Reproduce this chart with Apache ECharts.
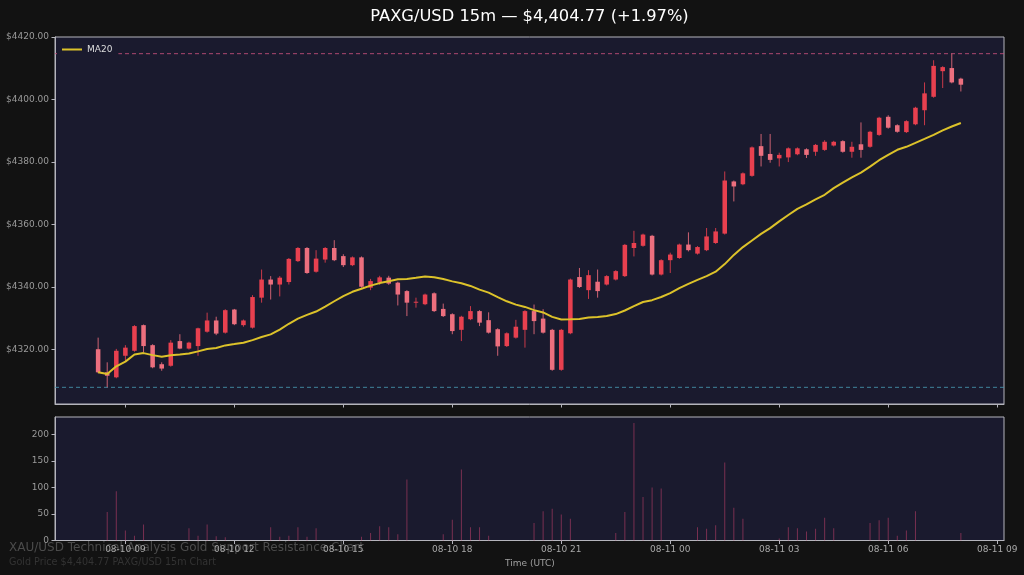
<!DOCTYPE html>
<html>
<head>
<meta charset="utf-8">
<style>
html,body{margin:0;padding:0;background:#121212;}
#chart{width:1024px;height:575px;}
</style>
<script src="https://cdn.jsdelivr.net/npm/echarts@6.0.0/dist/echarts.min.js"></script>
</head>
<body>
<div id="chart"></div>
<script>
// ---- data ----
const times = [
 '08-10 08:15','08-10 08:30','08-10 08:45',
 '08-10 09:00','08-10 09:15','08-10 09:30','08-10 09:45',
 '08-10 10:00','08-10 10:15','08-10 10:30','08-10 10:45',
 '08-10 11:00','08-10 11:15','08-10 11:30','08-10 11:45',
 '08-10 12:00','08-10 12:15','08-10 12:30','08-10 12:45',
 '08-10 13:00','08-10 13:15','08-10 13:30','08-10 13:45',
 '08-10 14:00','08-10 14:15','08-10 14:30','08-10 14:45',
 '08-10 15:00','08-10 15:15','08-10 15:30','08-10 15:45',
 '08-10 16:00','08-10 16:15','08-10 16:30','08-10 16:45',
 '08-10 17:00','08-10 17:15','08-10 17:30','08-10 17:45',
 '08-10 18:00','08-10 18:15','08-10 18:30','08-10 18:45',
 '08-10 19:00','08-10 19:15','08-10 19:30','08-10 19:45',
 '08-10 20:00','08-10 20:15','08-10 20:30','08-10 20:45',
 '08-10 21:00','08-10 21:15','08-10 21:30','08-10 21:45',
 '08-10 22:00','08-10 22:15','08-10 22:30','08-10 22:45',
 '08-10 23:00','08-10 23:15','08-10 23:30','08-10 23:45',
 '08-11 00:00','08-11 00:15','08-11 00:30','08-11 00:45',
 '08-11 01:00','08-11 01:15','08-11 01:30','08-11 01:45',
 '08-11 02:00','08-11 02:15','08-11 02:30','08-11 02:45',
 '08-11 03:00','08-11 03:15','08-11 03:30','08-11 03:45',
 '08-11 04:00','08-11 04:15','08-11 04:30','08-11 04:45',
 '08-11 05:00','08-11 05:15','08-11 05:30','08-11 05:45',
 '08-11 06:00','08-11 06:15','08-11 06:30','08-11 06:45',
 '08-11 07:00','08-11 07:15','08-11 07:30','08-11 07:45',
 '08-11 08:00'
];
const opens = [
 4320.1,4312.7,4311.1,4318.0,4319.6,4327.8,4321.4,4315.3,4314.8,4322.7,
 4320.3,4321.1,4325.7,4329.3,4325.4,4332.8,4327.8,4327.0,4336.6,4342.4,
 4340.8,4341.6,4348.3,4352.5,4344.9,4348.8,4352.5,4349.9,4347.0,4349.5,
 4339.8,4341.4,4343.0,4341.4,4338.7,4335.0,4334.5,4338.0,4333.0,4331.3,
 4326.3,4329.7,4332.3,4329.4,4326.5,4321.1,4323.8,4326.3,4332.3,4329.9,
 4326.3,4313.5,4325.2,4343.2,4339.0,4341.7,4340.8,4342.4,4343.5,4352.5,
 4353.2,4356.4,4344.0,4348.6,4349.3,4353.6,4350.7,4351.8,4354.1,4357.1,
 4373.8,4372.9,4375.6,4385.1,4382.6,4381.2,4381.5,4382.5,4384.1,4383.3,
 4383.9,4385.3,4386.7,4383.3,4385.7,4384.9,4388.7,4394.5,4391.8,4389.6,
 4392.1,4396.6,4400.9,4409.1,4410.1,4406.7
];
const closes = [
 4312.7,4311.6,4319.6,4320.6,4327.5,4321.1,4314.3,4313.9,4322.2,4320.3,
 4322.2,4326.8,4329.3,4325.1,4332.6,4328.1,4329.3,4336.8,4342.4,4340.8,
 4343.0,4349.0,4352.5,4344.5,4349.1,4352.5,4348.6,4347.0,4349.5,4340.1,
 4341.9,4343.1,4341.1,4337.6,4335.0,4335.3,4337.6,4332.3,4330.7,4325.9,
 4330.5,4332.3,4328.6,4325.4,4321.0,4325.2,4327.3,4332.3,4329.1,4325.4,
 4313.5,4326.3,4342.4,4340.0,4343.8,4338.7,4343.5,4345.1,4353.5,4354.1,
 4356.8,4344.0,4348.6,4350.4,4353.6,4351.8,4352.8,4356.2,4357.8,4374.1,
 4372.2,4376.4,4384.7,4382.0,4380.7,4382.3,4384.4,4384.4,4382.3,4385.5,
 4386.5,4386.5,4383.3,4384.9,4383.9,4389.7,4394.2,4391.0,4389.7,4393.1,
 4397.4,4402.0,4410.8,4410.4,4405.5,4404.77
];
const highs = [
 4323.8,4315.9,4320.2,4321.4,4327.8,4328.0,4321.7,4315.9,4323.0,4324.9,
 4322.5,4327.0,4331.8,4330.5,4332.9,4333.0,4329.6,4337.4,4345.6,4343.5,
 4343.5,4349.3,4352.8,4352.8,4351.8,4352.8,4355.0,4350.5,4349.8,4349.8,
 4342.6,4343.6,4343.6,4341.7,4339.0,4336.6,4337.9,4338.3,4334.7,4331.6,
 4330.8,4333.9,4332.6,4331.9,4326.8,4325.5,4329.5,4332.6,4334.4,4332.9,
 4326.6,4326.6,4342.7,4346.1,4345.4,4345.6,4343.8,4345.4,4353.8,4358.0,
 4357.1,4356.7,4348.9,4351.0,4353.9,4357.5,4353.1,4358.9,4358.9,4377.0,
 4374.1,4376.7,4385.0,4389.0,4389.0,4383.0,4384.7,4384.7,4384.4,4385.8,
 4387.0,4386.8,4387.0,4386.5,4392.7,4390.0,4394.5,4395.0,4392.1,4393.4,
 4397.7,4405.5,4412.6,4410.7,4414.7,4407.0
];
const lows = [
 4312.4,4307.9,4310.8,4316.4,4319.3,4319.2,4314.0,4313.2,4314.5,4320.1,
 4320.0,4318.0,4325.4,4324.6,4325.1,4327.8,4327.3,4326.7,4335.0,4336.0,
 4337.0,4340.8,4348.0,4344.2,4344.6,4347.8,4348.3,4346.4,4346.7,4339.8,
 4339.0,4340.7,4340.7,4334.1,4330.7,4333.4,4334.2,4332.0,4330.4,4324.9,
 4322.7,4329.4,4327.5,4325.1,4318.0,4320.8,4323.5,4320.6,4324.9,4325.1,
 4313.2,4313.2,4324.9,4339.7,4336.2,4336.6,4340.5,4342.1,4343.2,4349.8,
 4352.9,4343.7,4343.7,4344.5,4349.0,4351.4,4350.4,4351.5,4353.8,4356.8,
 4367.4,4372.6,4375.3,4378.6,4379.8,4378.6,4380.0,4382.2,4381.3,4382.0,
 4383.6,4385.0,4383.0,4381.4,4381.4,4384.6,4388.4,4390.7,4389.4,4389.3,
 4391.8,4391.8,4400.6,4403.7,4405.2,4402.6
];
const volumes = [
 0,54,93,19,9,30,0,0,0,0,
 23,9,30,8,6,0,0,0,0,25,
 7,9,25,7,23,0,0,0,0,7,
 14,27,25,12,115,0,0,0,12,39,
 134,25,25,9,0,0,0,0,33,55,
 60,49,41,0,0,0,0,14,54,222,
 82,100,98,0,0,0,25,22,29,147,
 62,41,0,0,0,4,25,23,17,22,
 43,23,0,0,0,33,38,43,9,19,
 55,0,0,0,0,14
];
const priceTicks = [4320, 4340, 4360, 4380, 4400, 4420];
const volumeTicks = [0, 50, 100, 150, 200];
const timeTickLabels = ['08-10 09','08-10 12','08-10 15','08-10 18','08-10 21','08-11 00','08-11 03','08-11 06','08-11 09'];
const maPeriod = 20;
const titleText = 'PAXG/USD 15m \u2014 $4,404.77 (+1.97%)';
const watermark1 = 'XAU/USD Technical Analysis Gold Support Resistance Chart';
const watermark2 = 'Gold Price $4,404.77 PAXG/USD 15m Chart';

// ---- derived ----
function toHours(s) {
  const parts = s.split(' ');
  const day = +parts[0].split('-')[1];
  const hm = parts[1].split(':');
  return (day - 10) * 24 + (+hm[0]) + (hm.length > 1 ? (+hm[1]) / 60 : 0);
}
const xs = times.map(toHours);
const tickHours = timeTickLabels.map(toHours);
const tickLabelMap = {};
tickHours.forEach((h, i) => { tickLabelMap[h] = timeTickLabels[i]; });

const span = xs[xs.length - 1] - xs[0];
const xMin = xs[0] - 0.05 * span;
const xMax = xs[xs.length - 1] + 0.05 * span;
const hiMax = Math.max(...highs), loMin = Math.min(...lows);
const pSpan = hiMax - loMin;
const yMin = loMin - 0.05 * pSpan, yMax = hiMax + 0.05 * pSpan;
const volMax = Math.max(...volumes) * 1.05;

const ma = closes.map((c, i) => {
  const s = Math.max(0, i - maPeriod + 1);
  const seg = closes.slice(s, i + 1);
  return seg.reduce((a, b) => a + b, 0) / seg.length;
});

const candleData = xs.map((x, i) => [x, opens[i], closes[i], lows[i], highs[i]]);
const maData = xs.map((x, i) => [x, ma[i]]);
const volData = xs.map((x, i) => [x, volumes[i]]);

const UP = '#e8404f', DOWN = '#ec6f7e';
const FONT = 'DejaVu Sans';
const SPINE = '#b4b4bc';
const LABEL = '#9a9a9a';
const RES_COLOR = 'rgba(200,80,125,0.85)';
const SUP_COLOR = 'rgba(70,150,175,0.85)';

const chart = echarts.init(document.getElementById('chart'), null, {renderer: 'canvas'});
chart.setOption({
  animation: false,
  backgroundColor: '#121212',
  textStyle: {fontFamily: FONT},
  title: {
    text: titleText, left: 524.5, top: 4, textAlign: 'center',
    textStyle: {color: '#ffffff', fontSize: 16.3, fontWeight: 'normal', fontFamily: FONT}
  },
  legend: {
    data: ['MA20'], left: 57, top: 40, icon: 'rect', itemWidth: 20, itemHeight: 2,
    padding: [5, 6, 5, 5], backgroundColor: '#1a1a2e',
    textStyle: {color: '#dddddd', fontSize: 9, fontFamily: FONT}
  },
  grid: [
    {left: 55, right: 20, top: 37, height: 367, show: true, backgroundColor: '#1a1a2e', borderColor: SPINE, borderWidth: 1},
    {left: 55, right: 20, top: 417, height: 123.5, show: true, backgroundColor: '#1a1a2e', borderColor: SPINE, borderWidth: 1}
  ],
  xAxis: [
    {
      type: 'value', gridIndex: 0, min: xMin, max: xMax,
      axisLine: {show: true, lineStyle: {color: SPINE}},
      axisTick: {show: true, customValues: tickHours, length: 3.5, lineStyle: {color: SPINE}},
      axisLabel: {show: false},
      splitLine: {show: false}
    },
    {
      type: 'value', gridIndex: 1, min: xMin, max: xMax,
      axisLine: {show: true, lineStyle: {color: SPINE}},
      axisTick: {show: true, customValues: tickHours, length: 3.5, lineStyle: {color: SPINE}},
      axisLabel: {
        show: true, customValues: tickHours, margin: 5, color: '#a8a8a8', fontSize: 9, fontFamily: FONT,
        formatter: v => tickLabelMap[v] !== undefined ? tickLabelMap[v] : ''
      },
      splitLine: {show: false}
    }
  ],
  yAxis: [
    {
      type: 'value', gridIndex: 0, min: yMin, max: yMax,
      axisLine: {show: true, lineStyle: {color: SPINE}},
      axisTick: {show: true, customValues: priceTicks, length: 3.5, lineStyle: {color: SPINE}},
      axisLabel: {
        show: true, customValues: priceTicks, margin: 6, color: LABEL, fontSize: 9, fontFamily: FONT,
        formatter: v => '$' + v.toFixed(2)
      },
      splitLine: {show: false}
    },
    {
      type: 'value', gridIndex: 1, min: 0, max: volMax,
      axisLine: {show: true, lineStyle: {color: SPINE}},
      axisTick: {show: true, customValues: volumeTicks, length: 3.5, lineStyle: {color: SPINE}},
      axisLabel: {
        show: true, customValues: volumeTicks, margin: 6, color: LABEL, fontSize: 9, fontFamily: FONT,
        formatter: v => String(v)
      },
      splitLine: {show: false}
    }
  ],
  series: [
    {
      name: 'Resistance', type: 'line', xAxisIndex: 0, yAxisIndex: 0,
      data: [[xMin, hiMax], [xMax, hiMax]], showSymbol: false, silent: true,
      itemStyle: {color: RES_COLOR},
      lineStyle: {color: RES_COLOR, type: [4, 3], width: 1},
      z: 1
    },
    {
      name: 'Support', type: 'line', xAxisIndex: 0, yAxisIndex: 0,
      data: [[xMin, loMin], [xMax, loMin]], showSymbol: false, silent: true,
      itemStyle: {color: SUP_COLOR},
      lineStyle: {color: SUP_COLOR, type: [4, 3], width: 1},
      z: 1
    },
    {
      name: 'Price', type: 'custom', xAxisIndex: 0, yAxisIndex: 0, clip: true,
      encode: {x: 0, y: [1, 2, 3, 4]},
      data: candleData,
      renderItem: function (params, api) {
        const x = api.value(0), o = api.value(1), c = api.value(2), l = api.value(3), h = api.value(4);
        const pO = api.coord([x, o]), pC = api.coord([x, c]);
        const pL = api.coord([x, l]), pH = api.coord([x, h]);
        const w = api.size([0.125, 0])[0];
        const color = c >= o ? UP : DOWN;
        const top = Math.min(pO[1], pC[1]);
        const bot = Math.max(pO[1], pC[1]);
        return {
          type: 'group',
          children: [
            {type: 'line', shape: {x1: pH[0], y1: pH[1], x2: pL[0], y2: pL[1]}, style: {stroke: color, lineWidth: 1, opacity: 0.85}},
            {type: 'rect', shape: {x: pO[0] - w / 2, y: top, width: w, height: Math.max(bot - top, 1)}, style: {fill: color}}
          ]
        };
      }
    },
    {
      name: 'MA20', type: 'line', xAxisIndex: 0, yAxisIndex: 0,
      data: maData, showSymbol: false, smooth: false,
      itemStyle: {color: '#dcc22a'},
      lineStyle: {color: '#dcc22a', width: 2},
      z: 3
    },
    {
      name: 'Volume', type: 'bar', xAxisIndex: 1, yAxisIndex: 1,
      data: volData, barWidth: 1,
      itemStyle: {color: 'rgba(215,70,115,0.5)'}
    }
  ],
  graphic: [
    {type: 'text', x: 9, y: 548, z: -1, style: {text: watermark1, fill: '#4b4b4b', font: '12px "DejaVu Sans"', textVerticalAlign: 'middle'}},
    {type: 'text', x: 9, y: 562, z: -1, style: {text: watermark2, fill: '#333333', font: '9.6px "DejaVu Sans"', textVerticalAlign: 'middle'}},
    {type: 'text', x: 530, y: 563.5, style: {text: 'Time (UTC)', fill: '#a0a0a0', font: '9px "DejaVu Sans"', textAlign: 'center', textVerticalAlign: 'middle'}}
  ]
});
</script>
</body>
</html>
